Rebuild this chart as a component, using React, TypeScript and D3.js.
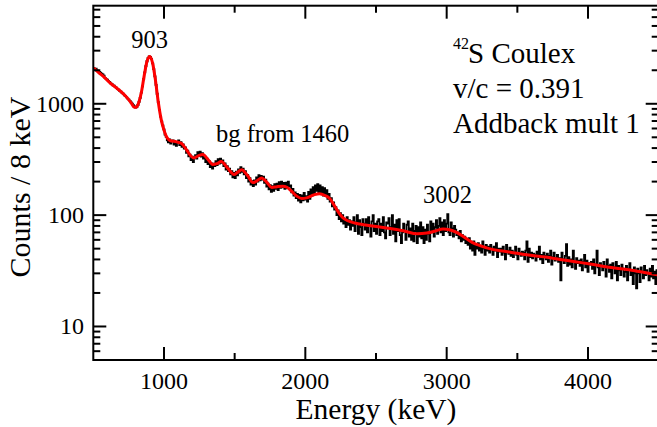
import React from 'react';
import * as d3 from 'd3';

// ---------- data ----------
const binStartKeV = 500;
const binWidthKeV = 8;
// counts per 8 keV bin, 500 keV .. 4500 keV
const counts: number[] = [
  2105, 2050, 2070, 1990, 1965, 1935, 1900, 1860, 1840, 1790,
  1712, 1668, 1648, 1596, 1572, 1522, 1508, 1462, 1452, 1410,
  1395, 1352, 1340, 1298, 1285, 1244, 1230, 1190, 1175, 1140,
  1112, 1088, 1060, 1030, 1002, 972, 946, 925, 932, 975,
  1040, 1130, 1262, 1436, 1661, 1914, 2176, 2410, 2582, 2657,
  2642, 2522, 2310, 2046, 1759, 1476, 1231, 1032, 880, 769,
  694, 641, 590, 530, 505, 470, 450, 478, 440, 462,
  470, 430, 455, 418, 448, 470, 425, 452, 410, 432,
  395, 405, 362, 380, 338, 350, 312, 335, 300, 328,
  345, 322, 368, 340, 372, 335, 360, 322, 338, 300,
  322, 288, 305, 270, 292, 262, 290, 275, 305, 282,
  318, 290, 322, 295, 310, 275, 292, 256, 275, 248,
  262, 232, 248, 218, 240, 215, 246, 228, 258, 240,
  270, 245, 262, 232, 248, 215, 230, 200, 215, 188,
  202, 182, 205, 188, 218, 200, 228, 205, 225, 208,
  222, 195, 208, 180, 192, 170, 186, 162, 182, 165,
  190, 172, 192, 168, 198, 176, 200, 178, 195, 172,
  196, 175, 200, 180, 185, 160, 172, 150, 160, 142,
  155, 135, 152, 130, 150, 136, 158, 138, 148, 132,
  162, 140, 170, 150, 178, 158, 185, 165, 190, 160,
  185, 158, 178, 150, 175, 148, 168, 140, 155, 132,
  142, 120, 130, 112, 118, 100, 110, 92, 104, 88,
  100, 84, 92, 78, 96, 82, 90, 74, 88, 80,
  96, 72, 86, 100, 68, 90, 78, 66, 92, 84,
  74, 92, 70, 96, 80, 64, 88, 100, 72, 84,
  68, 88, 92, 66, 84, 72, 96, 70, 62, 86,
  84, 94, 66, 78, 100, 68, 82, 58, 90, 72,
  92, 66, 56, 70, 84, 72, 60, 82, 88, 64,
  76, 60, 84, 58, 72, 80, 56, 78, 64, 86,
  62, 78, 56, 74, 60, 82, 68, 58, 88, 70,
  84, 64, 78, 90, 68, 80, 94, 70, 86, 66,
  90, 72, 84, 102, 70, 66, 86, 76, 64, 80,
  74, 66, 70, 62, 72, 58, 66, 60, 64, 56,
  60, 54, 62, 50, 56, 48, 58, 44, 54, 50,
  56, 48, 52, 46, 58, 50, 44, 54, 48, 52,
  46, 54, 50, 44, 52, 48, 56, 42, 50, 47,
  50, 44, 52, 46, 40, 54, 48, 45, 51, 43,
  48, 42, 46, 52, 44, 40, 50, 46, 43, 47,
  46, 40, 48, 58, 38, 50, 42, 46, 41, 45,
  44, 39, 47, 42, 52, 40, 44, 37, 46, 43,
  40, 45, 38, 43, 48, 36, 42, 46, 39, 41,
  44, 38, 41, 26, 46, 40, 37, 43, 55, 35,
  42, 36, 40, 34, 48, 38, 33, 41, 37, 39,
  35, 40, 32, 38, 44, 34, 39, 31, 37, 36,
  38, 33, 40, 30, 36, 48, 34, 29, 37, 35,
  32, 38, 34, 28, 40, 35, 31, 36, 27, 37,
  34, 30, 38, 26, 35, 32, 29, 36, 33, 28,
  31, 35, 26, 33, 37, 29, 32, 24, 34, 30,
  22, 33, 30, 25, 34, 31, 27, 35, 29, 32,
  30, 26, 33, 28, 35, 27, 31, 24, 32, 29,
];

// fit (red) curve
const fitEnergy: number[] = [
  500, 540, 580, 620, 660, 700, 740, 770, 790, 800, 810, 820, 840, 860, 880, 900,
  920, 940, 960, 980, 1000, 1020, 1040, 1090, 1125, 1160, 1190, 1210, 1245, 1275,
  1310, 1345, 1375, 1405, 1440, 1475, 1495, 1520, 1550, 1590, 1630, 1660, 1690,
  1730, 1762, 1800, 1840, 1870, 1900, 1940, 1975, 2010, 2060, 2100, 2140, 2175,
  2205, 2235, 2265, 2300, 2350, 2410, 2500, 2600, 2700, 2790, 2860, 2920, 2975,
  3020, 3070, 3120, 3180, 3240, 3330, 3450, 3566, 3700, 3802, 3920, 4038, 4150,
  4274, 4400, 4500,
];
const fitCounts: number[] = [
  2100, 1900, 1720, 1530, 1400, 1270, 1130, 1010, 930, 930, 950, 1010, 1262, 1786, 2410, 2660,
  2310, 1616, 1032, 725, 580, 500, 470, 455, 440, 385, 340, 326, 342, 350,
  318, 285, 290, 303, 275, 242, 232, 242, 256, 228, 196, 204, 216,
  196, 177, 180, 182, 178, 165, 148, 141, 143, 152, 156, 150, 140,
  122, 106, 95, 89, 85, 82, 79, 76, 72, 68, 69, 72, 75,
  74, 70, 64, 57, 53, 49, 46.5, 44, 42, 40, 38, 36, 34,
  32.5, 30.5, 29,
];

const xMajorTicks = [1000, 2000, 3000, 4000];
const xMinorTicks = [1500, 2500, 3500];
const yMajorTicks = [10, 100, 1000];
const yMinorTicks = [
  6, 7, 8, 9, 20, 30, 40, 50, 60, 70, 80, 90,
  200, 300, 400, 500, 600, 700, 800, 900, 2000, 3000, 4000, 5000, 6000, 7000,
];

const peakLabels = [
  { text: '903', x: 149.5, y: 48, anchor: 'middle' },
  { text: 'bg from 1460', x: 216, y: 142, anchor: 'start' },
  { text: '3002', x: 423, y: 203, anchor: 'start' },
];

const FONT = "'Liberation Serif', 'Times New Roman', Times, serif";

export default function App() {
  const W = 657;
  const H = 427;
  const L = 93.3, R = 658.7, T = 5.7, B = 360;

  const x = d3.scaleLinear().domain([500, 4500]).range([L, R]);
  const y = d3.scaleLog().domain([5, 7600]).range([B, T]);

  const histPts: [number, number][] = counts.map((c, i) => [binStartKeV + i * binWidthKeV, c]);
  histPts.push([binStartKeV + counts.length * binWidthKeV, counts[counts.length - 1]]);
  const histPath = d3
    .line<[number, number]>()
    .x((d) => x(d[0]))
    .y((d) => y(d[1]))
    .curve(d3.curveStepAfter)(histPts) as string;

  const fitPts: [number, number][] = fitEnergy.map((e, i) => [e, fitCounts[i]]);
  const fitPath = d3
    .line<[number, number]>()
    .x((d) => x(d[0]))
    .y((d) => y(d[1]))
    .curve(d3.curveMonotoneX)(fitPts) as string;

  const majLen = 13;
  const minLen = 7;
  const axisW = 2;

  return (
    <svg
      width={W}
      height={H}
      style={{ position: 'absolute', left: 0, top: 0, background: '#fff', fontFamily: FONT }}
    >
      <defs>
        <clipPath id="plotclip">
          <rect x={L} y={T} width={R - L} height={B - T} />
        </clipPath>
      </defs>
      <rect x={0} y={0} width={W} height={H} fill="#fff" />
      <g clipPath="url(#plotclip)">
        <path d={histPath} fill="none" stroke="#000" strokeWidth={1.8} />
        <path d={fitPath} fill="none" stroke="#ff0000" strokeWidth={3} strokeLinejoin="round" />
      </g>

      {/* frame */}
      <rect x={L} y={T} width={R - L} height={B - T} fill="none" stroke="#000" strokeWidth={axisW} />

      {/* x ticks */}
      {xMajorTicks.map((t) => (
        <g key={'xM' + t}>
          <line x1={x(t)} x2={x(t)} y1={B} y2={B - majLen} stroke="#000" strokeWidth={axisW} />
          <line x1={x(t)} x2={x(t)} y1={T} y2={T + majLen} stroke="#000" strokeWidth={axisW} />
          <text x={x(t)} y={389} fontSize={24} textAnchor="middle" fill="#000">
            {t}
          </text>
        </g>
      ))}
      {xMinorTicks.map((t) => (
        <g key={'xm' + t}>
          <line x1={x(t)} x2={x(t)} y1={B} y2={B - minLen} stroke="#000" strokeWidth={axisW} />
          <line x1={x(t)} x2={x(t)} y1={T} y2={T + minLen} stroke="#000" strokeWidth={axisW} />
        </g>
      ))}

      {/* y ticks */}
      {yMajorTicks.map((t) => (
        <g key={'yM' + t}>
          <line x1={L} x2={L + majLen} y1={y(t)} y2={y(t)} stroke="#000" strokeWidth={axisW} />
          <line x1={R} x2={R - majLen} y1={y(t)} y2={y(t)} stroke="#000" strokeWidth={axisW} />
          <text x={84} y={y(t) + 8} fontSize={24} textAnchor="end" fill="#000">
            {t}
          </text>
        </g>
      ))}
      {yMinorTicks.map((t) => (
        <g key={'ym' + t}>
          <line x1={L} x2={L + minLen} y1={y(t)} y2={y(t)} stroke="#000" strokeWidth={axisW} />
          <line x1={R} x2={R - minLen} y1={y(t)} y2={y(t)} stroke="#000" strokeWidth={axisW} />
        </g>
      ))}

      {/* axis titles */}
      <text x={(L + R) / 2} y={419} fontSize={29.5} textAnchor="middle" fill="#000">
        Energy (keV)
      </text>
      <text
        transform={`translate(30,187) rotate(-90)`}
        fontSize={30}
        textAnchor="middle"
        fill="#000"
      >
        Counts / 8 keV
      </text>

      {/* peak labels */}
      {peakLabels.map((p) => (
        <text key={p.text} x={p.x} y={p.y} fontSize={24.5} textAnchor={p.anchor as any} fill="#000">
          {p.text}
        </text>
      ))}

      {/* info text */}
      <text x={453} y={49} fontSize={16} fill="#000">42</text>
      <text x={468} y={63} fontSize={29} fill="#000">S Coulex</text>
      <text x={453} y={98} fontSize={29} fill="#000">v/c = 0.391</text>
      <text x={453} y={133} fontSize={29} fill="#000">Addback mult 1</text>
    </svg>
  );
}
